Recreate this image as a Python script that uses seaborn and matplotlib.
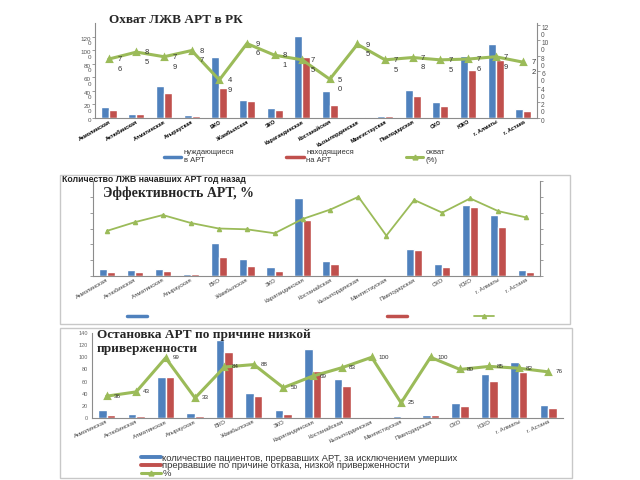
import pandas as pd
import seaborn as sns
import matplotlib.pyplot as plt
from matplotlib.lines import Line2D
from matplotlib.patches import Rectangle

regions = ['Акмолинская', 'Актюбинская', 'Алматинская', 'Атырауская', 'ВКО',
           'Жамбылская', 'ЗКО', 'Карагандинская', 'Костанайская', 'Кызылординская',
           'Мангистауская', 'Павлодарская', 'СКО', 'ЮКО', 'г. Алматы', 'г. Астана']

# 1) Охват ЛЖВ АРТ в РК
need_art = [155, 65, 475, 40, 905, 260, 145, 1210, 395, 10, 35, 410, 240, 920, 1095, 135]
on_art = [115, 55, 375, 35, 445, 255, 115, 905, 195, 8, 25, 320, 180, 705, 860, 100]
coverage = [76, 85, 79, 87, 49, 96, 81, 75, 50, 95, 75, 78, 75, 76, 79, 72]

# 2) Эффективность АРТ (оси без подписей)
started = [85, 72, 85, 29, 414, 211, 118, 984, 190, 6, 13, 346, 148, 899, 772, 76]
effective = [47, 47, 63, 22, 244, 123, 63, 713, 156, 4, 4, 333, 114, 870, 624, 54]
eff_pct = [57, 68, 77, 67, 60, 59, 54, 72, 84, 100, 51, 96, 80, 98, 82, 74]

# 3) Остановка АРТ
stopped = [14, 7, 68, 9, 129, 41, 14, 113, 64, 1, 4, 5, 25, 72, 93, 21]
stopped_low = [5, 3, 67, 3, 108, 36, 7, 78, 53, 1, 1, 5, 20, 61, 76, 16]
stop_pct = [36, 43, 99, 33, 84, 88, 50, 69, 83, 100, 25, 100, 80, 85, 82, 76]

BLUE, RED, GREEN = '#4F81BD', '#C0504D', '#9BBB59'
GRAY = '#8C8C8C'

sns.set_theme(style='white')
plt.rcParams['font.family'] = ['Liberation Sans', 'DejaVu Sans']

W, H = 640, 480
fig = plt.figure(figsize=(6.4, 4.8), dpi=100)


def place(x0, y0, x1, y1):
    # пиксели картинки -> доли фигуры
    return [x0 / W, 1 - y1 / H, (x1 - x0) / W, (y1 - y0) / H]


def bars(ax, a, b, name_a, name_b):
    df = pd.DataFrame({'region': regions * 2, 'value': a + b,
                       'series': [name_a] * 16 + [name_b] * 16})
    sns.barplot(data=df, x='region', y='value', hue='series', palette=[BLUE, RED],
                width=0.58, saturation=1, legend=False, ax=ax)
    ax.set_xlabel('')
    ax.set_ylabel('')
    for s in ['top', 'right']:
        ax.spines[s].set_visible(False)
    for s in ['left', 'bottom']:
        ax.spines[s].set_color(GRAY)
        ax.spines[s].set_linewidth(0.8)
    ax.tick_params(axis='both', length=2, width=0.6, color=GRAY, pad=1)


# ---------- chart 1 ----------
ax1 = fig.add_axes(place(95, 23, 537, 118))
bars(ax1, need_art, on_art, 'нуждающиеся в АРТ', 'находящиеся на АРТ')
ax1.set_ylim(0, 1400)
ax1.set_yticks(range(0, 1201, 200))
ax1.set_yticklabels(['0'] + [f'{v // 10}\n{v % 10}' for v in range(200, 1201, 200)],
                    fontsize=4.5, color='#555555', va='top', linespacing=0.85)
ax1.set_xticks(range(16))
ax1.set_xticklabels(regions, rotation=30, ha='right', rotation_mode='anchor',
                    fontsize=4, fontweight='bold', color='black')
ax1.tick_params(axis='x', length=0)

ax1r = ax1.twinx()
sns.pointplot(x=regions, y=coverage, color=GREEN, markers='^', errorbar=None,
              linewidth=2.2, markersize=3.5, ax=ax1r)
ax1r.set_ylim(0, 122.5)
ax1r.set_yticks(range(0, 121, 20))
ax1r.set_yticklabels(['0'] + [f'{v // 10}\n{v % 10}' for v in range(20, 121, 20)],
                     fontsize=4.8, color='#555555', va='top', linespacing=0.95)
ax1r.set_xlabel('')
ax1r.set_ylabel('')
for s in ['top', 'left', 'bottom']:
    ax1r.spines[s].set_visible(False)
ax1r.spines['right'].set_color(GRAY)
ax1r.spines['right'].set_linewidth(0.8)
ax1r.tick_params(axis='y', length=2, width=0.6, color=GRAY, pad=1)
for i, v in enumerate(coverage):
    ax1r.annotate(f'{v // 10}\n{v % 10}', (i, v), xytext=(6, -4), textcoords='offset points',
                  ha='left', va='center', fontsize=5.5, color='#333333', linespacing=1.5)
ax1.set_xlim(-0.5, 15.5)

fig.text(109 / W, 1 - 20 / H, 'Охват ЛЖВ АРТ в РК', family='Liberation Serif',
         fontweight='bold', fontsize=9.5, va='center', ha='left')

h1 = [Line2D([], [], color=BLUE, lw=2.5), Line2D([], [], color=RED, lw=2.5),
      Line2D([], [], color=GREEN, lw=2.2, marker='^', markersize=3.5)]
fig.legend(h1, ['нуждающиеся\nв АРТ', 'находящиеся\nна АРТ', 'охват\n(%)'],
           loc='center left', bbox_to_anchor=(157 / W, 1 - 157 / H), ncol=3,
           frameon=False, fontsize=5.5, handlelength=2.3, handletextpad=0.3,
           columnspacing=6.8, labelcolor='#333333')

# ---------- chart 2 ----------
fig.add_artist(Rectangle((60 / W, 1 - 324 / H), 510 / W, 149 / H, transform=fig.transFigure,
                         fill=False, edgecolor='#C8C8C8', lw=1))
ax2 = fig.add_axes(place(93, 181, 540, 276))
bars(ax2, started, effective, 'начавшие АРТ', 'эффективность')
ax2.set_ylim(0, 1200)
ax2.set_yticks(range(0, 1201, 200))
ax2.set_yticklabels([])
ax2.set_xticks(range(16))
ax2.set_xticklabels(regions, rotation=30, ha='right', rotation_mode='anchor',
                    fontsize=4.3, color='#404040')
ax2.set_xticks([i + 0.5 for i in range(-1, 16)], minor=True)
ax2.tick_params(axis='x', which='major', length=0)
ax2.tick_params(axis='x', which='minor', length=2, width=0.6, color=GRAY)

ax2r = ax2.twinx()
sns.pointplot(x=regions, y=eff_pct, color=GREEN, markers='^', errorbar=None,
              linewidth=1.3, markersize=3, ax=ax2r)
ax2r.set_ylim(0, 120)
ax2r.set_yticks(range(0, 121, 20))
ax2r.set_yticklabels([])
ax2r.set_xlabel('')
ax2r.set_ylabel('')
for s in ['top', 'left', 'bottom']:
    ax2r.spines[s].set_visible(False)
ax2r.spines['right'].set_color(GRAY)
ax2r.spines['right'].set_linewidth(0.8)
ax2r.tick_params(axis='y', length=2, width=0.6, color=GRAY)
ax2.set_xlim(-0.5, 15.5)

fig.text(62 / W, 1 - 179 / H, 'Количество ЛЖВ начавших АРТ год назад', fontsize=6.3,
         fontweight='bold', va='center', ha='left', color='#222222')
fig.text(103 / W, 1 - 193 / H, 'Эффективность АРТ, %', family='Liberation Serif',
         fontweight='bold', fontsize=10, va='center', ha='left')

for handle, xc in [(Line2D([], [], color=BLUE, lw=2.5), 138),
                   (Line2D([], [], color=RED, lw=2.5), 398),
                   (Line2D([], [], color=GREEN, lw=1.3, marker='^', markersize=3), 485)]:
    fig.legend([handle], [' '], loc='center', bbox_to_anchor=(xc / W, 1 - 317 / H),
               frameon=False, fontsize=5, handlelength=2.8, handletextpad=0,
               borderpad=0)

# ---------- chart 3 ----------
fig.add_artist(Rectangle((60 / W, 1 - 478 / H), 512 / W, 150 / H, transform=fig.transFigure,
                         fill=False, edgecolor='#C8C8C8', lw=1))
ax3 = fig.add_axes(place(92, 333, 563, 418))
bars(ax3, stopped, stopped_low,
     'количество пациентов, прервавших АРТ, за исключением умерших',
     'прервавшие по причине отказа, низкой приверженности')
sns.pointplot(x=regions, y=stop_pct, color=GREEN, markers='^', errorbar=None,
              linewidth=2.2, markersize=3.5, ax=ax3)
ax3.set_xlabel('')
ax3.set_ylabel('')
ax3.set_ylim(0, 140)
ax3.set_yticks(range(0, 141, 20))
ax3.set_yticklabels([str(v) for v in range(0, 141, 20)], fontsize=4, color='#666666')
ax3.set_xticks(range(16))
ax3.set_xticklabels(regions, rotation=25, ha='right', rotation_mode='anchor',
                    fontsize=4.3, color='#404040')
ax3.set_xticks([i + 0.5 for i in range(-1, 16)], minor=True)
ax3.tick_params(axis='x', which='major', length=0)
ax3.tick_params(axis='x', which='minor', length=2, width=0.6, color=GRAY)
ax3.set_xlim(-0.5, 15.5)
for i, v in enumerate(stop_pct):
    ax3.annotate(str(v), (i, v), xytext=(5, 0), textcoords='offset points',
                 ha='left', va='center', fontsize=4.5, color='#333333')

fig.text(97 / W, 1 - 329 / H, 'Остановка АРТ по причине низкой\nприверженности',
         family='Liberation Serif', fontweight='bold', fontsize=9.5, va='top', ha='left',
         linespacing=1.25)

h3 = [Line2D([], [], color=BLUE, lw=2.8), Line2D([], [], color=RED, lw=2.8),
      Line2D([], [], color=GREEN, lw=2.2, marker='^', markersize=3.5)]
fig.legend(h3, ['количество пациентов, прервавших АРТ, за исключением умерших',
                'прервавшие по причине отказа, низкой приверженности', '%'],
           loc='upper left', bbox_to_anchor=(136 / W, 1 - 449 / H), frameon=False,
           fontsize=6.8, handlelength=2.1, handletextpad=0.2, labelspacing=-0.15,
           borderpad=0, labelcolor='#333333')

fig.savefig('out.png', dpi=100, facecolor='white')
